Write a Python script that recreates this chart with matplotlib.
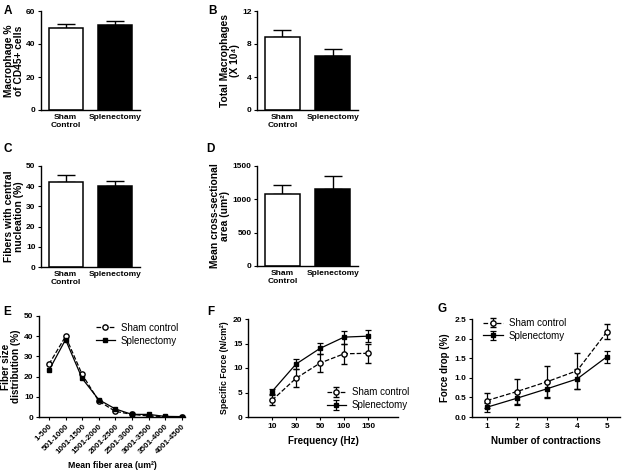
import numpy as np
import matplotlib
matplotlib.use("Agg")
import matplotlib.pyplot as plt

plt.rcParams["font.family"] = ["Liberation Sans", "DejaVu Sans"]
plt.rcParams["font.weight"] = "bold"
plt.rcParams["axes.linewidth"] = 1.0

# bar panels (A-D)
bar_groups = ["Sham\nControl", "Splenectomy"]
macro_pct = [49.7, 51.3]
macro_pct_err = [2.3, 2.7]
total_macro = [8.8, 6.6]
total_macro_err = [0.9, 0.85]
central_nuc = [42.0, 40.2]
central_nuc_err = [3.6, 2.5]
csa = [1080, 1150]
csa_err = [135, 200]

# fiber size distribution (E)
fiber_bins = ["1-500", "501-1000", "1001-1500", "1501-2000", "2001-2500",
              "2501-3000", "3001-3500", "3501-4000", "4001-4500"]
fiber_sham = [26.1, 39.9, 21.1, 7.9, 2.8, 1.3, 0.5, 0.2, 0.1]
fiber_splen = [23.1, 38.3, 19.1, 8.6, 4.0, 1.3, 1.3, 0.3, 0.2]

# specific force (F)
freq_labels = ["10", "30", "50", "100", "150"]
force_sham = [3.4, 7.9, 11.0, 12.9, 13.0]
force_sham_err = [1.0, 1.85, 1.9, 2.1, 1.9]
force_splen = [5.2, 10.8, 14.0, 16.3, 16.5]
force_splen_err = [0.6, 1.0, 1.2, 1.3, 1.2]

# force drop (G)
contractions = [1, 2, 3, 4, 5]
drop_sham = [0.42, 0.65, 0.90, 1.18, 2.18]
drop_sham_err = [0.18, 0.32, 0.41, 0.46, 0.18]
drop_splen = [0.25, 0.48, 0.72, 0.97, 1.54]
drop_splen_err = [0.11, 0.17, 0.21, 0.26, 0.15]

W, H = 622, 471
fig = plt.figure(figsize=(W / 100, H / 100), dpi=100)


def px_axes(l, t, r, b):
    ax = fig.add_axes([l / W, 1 - b / H, (r - l) / W, (b - t) / H])
    for s in ["top", "right"]:
        ax.spines[s].set_visible(False)
    ax.tick_params(direction="out", length=2.5, width=0.8, labelsize=6, pad=1.5)
    return ax


def bar_panel(l, t, r, b, vals, errs, ylim, yticks, ylabel):
    ax = px_axes(l, t, r, b)
    x = np.arange(len(vals))
    ax.bar(x, vals, width=0.69, color=["white", "black"], edgecolor="black", linewidth=1.1, zorder=2)
    ax.errorbar(x, vals, yerr=[np.zeros(len(errs)), errs], fmt="none", ecolor="black",
                elinewidth=1.0, capsize=6.5, capthick=1.0, zorder=1)
    ax.set_xlim(-0.5, 1.5)
    ax.set_ylim(*ylim)
    ax.set_yticks(yticks)
    ax.set_xticks(x)
    ax.set_xticklabels(bar_groups, fontsize=6, fontweight="bold", linespacing=1.15)
    ax.tick_params(axis="x", length=0, pad=3)
    ax.set_ylabel(ylabel, fontsize=7.4, fontweight="bold", labelpad=1.5, linespacing=1.0)
    return ax


bar_panel(41, 11, 140, 110, macro_pct, macro_pct_err, (0, 60), [0, 20, 40, 60],
          "Macrophage %\nof CD45+ cells")
bar_panel(257, 11, 358, 110, total_macro, total_macro_err, (0, 12), [0, 4, 8, 12],
          "Total Macrophages\n(X 10\u2074)")
bar_panel(41, 166, 140, 267, central_nuc, central_nuc_err, (0, 50), np.arange(0, 51, 10),
          "Fibers with central\nnucleation (%)")
bar_panel(257, 166, 358, 266, csa, csa_err, (0, 1500), [0, 500, 1000, 1500],
          "Mean cross-sectional\narea (um\u00b2)")

sham_style = dict(color="black", linestyle="--", marker="o", markerfacecolor="white",
                  markeredgecolor="black", markersize=3.8, markeredgewidth=1.0, linewidth=0.9)
splen_style = dict(color="black", linestyle="-", marker="s", markerfacecolor="black",
                   markersize=3.3, linewidth=0.9)
leg_kw = dict(frameon=False, prop={"size": 7, "weight": "normal"}, handlelength=2.0,
              handletextpad=0.6, labelspacing=0.3, borderaxespad=0.3)

# E
axE = px_axes(39, 316, 185, 417)
xe = np.arange(len(fiber_bins))
axE.plot(xe, fiber_sham, label="Sham control", **sham_style)
axE.plot(xe, fiber_splen, label="Splenectomy", **splen_style)
axE.set_xlim(-0.6, 8.2)
axE.set_ylim(0, 50)
axE.set_yticks(np.arange(0, 51, 10))
axE.set_xticks(xe)
axE.set_xticklabels(fiber_bins, rotation=45, ha="right", rotation_mode="anchor", fontsize=5.8)
axE.set_ylabel("Fiber size\ndistribution (%)", fontsize=7.2, fontweight="bold", labelpad=2, linespacing=1.0)
axE.set_xlabel("Mean fiber area (um\u00b2)", fontsize=6.3, fontweight="bold", labelpad=4)
axE.legend(loc="upper right", bbox_to_anchor=(1.0, 1.0), **leg_kw)

# F
axF = px_axes(248, 319, 398, 417)
xf = np.arange(len(freq_labels))
axF.errorbar(xf, force_sham, yerr=force_sham_err, label="Sham control", capsize=2.5,
             elinewidth=0.9, capthick=0.9, **sham_style)
axF.errorbar(xf, force_splen, yerr=force_splen_err, label="Splenectomy", capsize=2.5,
             elinewidth=0.9, capthick=0.9, **splen_style)
axF.set_xlim(-1.0, 5.25)
axF.set_ylim(0, 20)
axF.set_yticks([0, 5, 10, 15, 20])
axF.set_xticks(xf)
axF.set_xticklabels(freq_labels)
axF.set_ylabel("Specific Force (N/cm\u00b2)", fontsize=6.3, fontweight="bold", labelpad=3)
axF.set_xlabel("Frequency (Hz)", fontsize=7, fontweight="bold", labelpad=5)
hF, lF = axF.get_legend_handles_labels()
axF.legend(hF, lF, loc="lower right", bbox_to_anchor=(1.12, 0.0), **leg_kw)

# G
axG = px_axes(472, 319, 620, 417)
axG.errorbar(contractions, drop_sham, yerr=drop_sham_err, label="Sham control", capsize=2.5,
             elinewidth=0.9, capthick=0.9, **sham_style)
axG.errorbar(contractions, drop_splen, yerr=drop_splen_err, label="Splenectomy", capsize=2.5,
             elinewidth=0.9, capthick=0.9, **splen_style)
axG.set_xlim(0.5, 5.43)
axG.set_ylim(0, 2.5)
axG.set_yticks([0.0, 0.5, 1.0, 1.5, 2.0, 2.5])
axG.set_yticklabels(["0.0", "0.5", "1.0", "1.5", "2.0", "2.5"])
axG.set_xticks(contractions)
axG.set_ylabel("Force drop (%)", fontsize=7, fontweight="bold", labelpad=3)
axG.set_xlabel("Number of contractions", fontsize=7, fontweight="bold", labelpad=5)
hG, lG = axG.get_legend_handles_labels()
axG.legend(hG, lG, loc="upper left", bbox_to_anchor=(0.03, 1.08), **leg_kw)

# panel letters
for letter, px, py in [("A", 4, 5), ("B", 208, 5), ("C", 4, 143), ("D", 206, 143),
                       ("E", 3, 306), ("F", 207, 306), ("G", 438, 303)]:
    fig.text(px / W, 1 - py / H, letter, fontsize=8.5, fontweight="bold", ha="left", va="top")

fig.savefig("out.png", dpi=100)
